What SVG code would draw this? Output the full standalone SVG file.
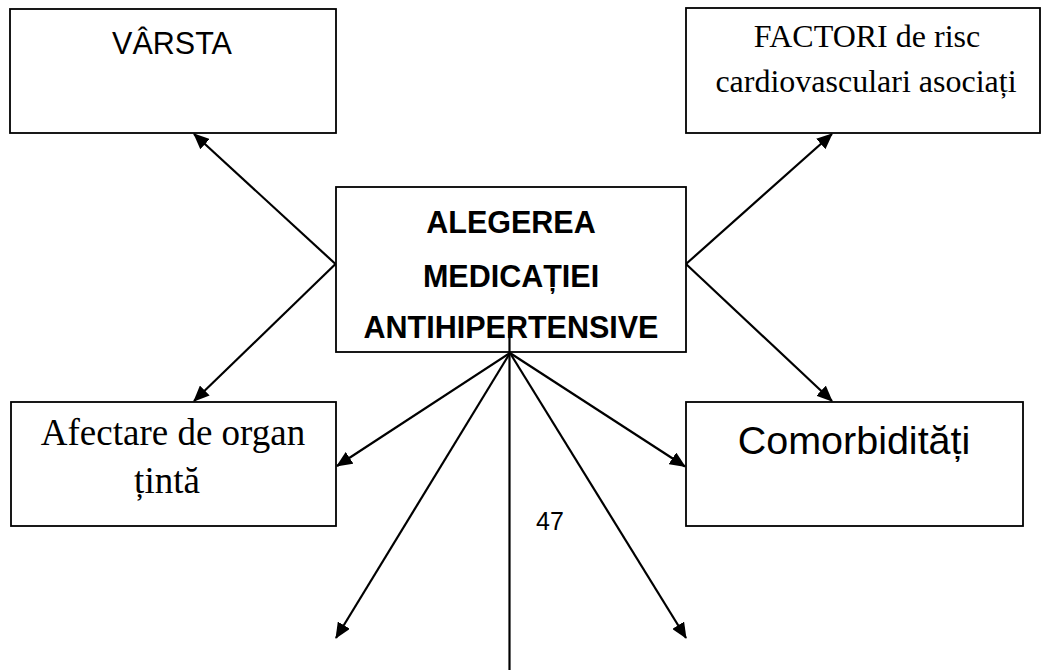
<svg xmlns="http://www.w3.org/2000/svg" width="1041" height="670" viewBox="0 0 1041 670">
  <style>
    .box { fill: #ffffff; stroke: #000000; stroke-width: 1.8; }
    .link { fill: none; stroke: #000000; stroke-width: 2.2; }
    .sans { font-family: "Liberation Sans", Arial, sans-serif; fill: #000000; text-anchor: middle; }
    .serif { font-family: "Liberation Serif", "Times New Roman", serif; fill: #000000; text-anchor: middle; }
    .bold { font-weight: bold; }
  </style>
  <defs>
    <marker id="arrow" viewBox="0 0 16 14" refX="15" refY="7" markerWidth="16" markerHeight="14" markerUnits="userSpaceOnUse" orient="auto">
      <path d="M0,0 L16,7 L0,14 z" fill="#000000"/>
    </marker>
  </defs>
  <rect width="1041" height="670" fill="#ffffff"/>

  <!-- connectors -->
  <g id="connectors">
    <line class="link" x1="335.5" y1="264" x2="194" y2="134" marker-end="url(#arrow)"/>
    <line class="link" x1="335.5" y1="264" x2="194" y2="401" marker-end="url(#arrow)"/>
    <line class="link" x1="686" y1="264" x2="832" y2="134" marker-end="url(#arrow)"/>
    <line class="link" x1="686" y1="264" x2="832" y2="401" marker-end="url(#arrow)"/>
    <line class="link" x1="510" y1="353" x2="337" y2="466" marker-end="url(#arrow)"/>
    <line class="link" x1="510" y1="353" x2="685" y2="466.5" marker-end="url(#arrow)"/>
    <line class="link" x1="510" y1="353" x2="336" y2="638" marker-end="url(#arrow)"/>
    <line class="link" x1="510" y1="353" x2="686" y2="638" marker-end="url(#arrow)"/>
  </g>

  <!-- age -->
  <g id="node-varsta">
    <rect class="box" x="10" y="9" width="326" height="124"/>
    <text class="sans" x="172" y="54" font-size="30.5">VÂRSTA</text>
  </g>

  <!-- associated cardiovascular risk factors -->
  <g id="node-factori">
    <rect class="box" x="686" y="8" width="354" height="125"/>
    <text class="serif" x="867" y="47" font-size="32">FACTORI de risc</text>
    <text class="serif" x="866" y="92" font-size="32">cardiovasculari asociați</text>
  </g>

  <!-- central node -->
  <g id="node-alegerea">
    <rect class="box" x="336" y="187" width="350" height="165"/>
    <text class="sans bold" x="511" y="233" font-size="30.5">ALEGEREA</text>
    <text class="sans bold" x="511" y="287" font-size="30.5">MEDICAȚIEI</text>
    <text class="sans bold" x="511" y="338" font-size="30.5">ANTIHIPERTENSIVE</text>
  </g>

  <!-- target organ damage -->
  <g id="node-afectare">
    <rect class="box" x="11" y="402" width="325" height="124"/>
    <text class="serif" x="173" y="445" font-size="37">Afectare de organ</text>
    <text class="serif" x="167" y="493" font-size="37">țintă</text>
  </g>

  <!-- comorbidities -->
  <g id="node-comorbiditati">
    <rect class="box" x="686" y="402" width="337" height="124"/>
    <text class="sans" x="854" y="454" font-size="39.5">Comorbidități</text>
  </g>

  <!-- vertical rule and page number -->
  <g id="page-mark">
    <line class="link" x1="509.5" y1="330" x2="509.5" y2="670"/>
    <text class="sans" x="550" y="530" font-size="25">47</text>
  </g>
</svg>
